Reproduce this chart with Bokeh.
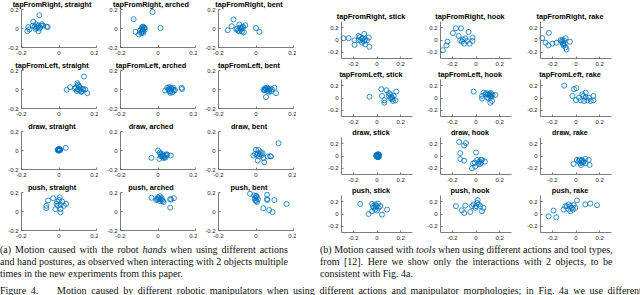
from bokeh.plotting import figure
from bokeh.models import Div, Spacer, Range1d, FixedTicker, CustomJSTickFormatter, Label
from bokeh.layouts import row, column
from bokeh.embed import file_html
from bokeh.resources import INLINE

# ---------------- panel (a): robot hands ----------------
hand_titles = ["tapFromRight, straight", "tapFromRight, arched", "tapFromRight, bent",
               "tapFromLeft, straight", "tapFromLeft, arched", "tapFromLeft, bent",
               "draw, straight", "draw, arched", "draw, bent",
               "push, straight", "push, arched", "push, bent"]

tfr_straight_x = [-0.105, -0.137, -0.123, -0.092, -0.066, -0.06, -0.164, -0.158, -0.169, -0.11, -0.12, -0.115, -0.105, -0.1, -0.095, -0.125, -0.13, -0.11, -0.085, -0.14]
tfr_straight_y = [0.14, 0.07, 0.045, 0.045, 0.02, 0.015, 0.015, -0.01, -0.028, -0.028, 0.01, 0.02, 0.0, 0.01, 0.03, -0.005, 0.02, 0.03, 0.03, 0.03]
tfr_arched_x = [-0.029, -0.13, 0.013, -0.12, -0.102, -0.09, -0.085, -0.08, -0.075, -0.07, -0.08, -0.088, -0.095, -0.078, -0.072, -0.085, -0.09, -0.08]
tfr_arched_y = [0.175, 0.098, 0.006, -0.036, -0.063, -0.01, 0.0, 0.02, 0.01, -0.01, -0.03, -0.04, -0.02, -0.045, 0.005, 0.015, -0.05, -0.02]
tfr_bent_x = [-0.12, -0.13, -0.089, -0.057, -0.151, 0.0, 0.018, -0.1, -0.095, -0.085, -0.08, -0.075, -0.07, -0.065, -0.105, -0.09, -0.08, -0.07]
tfr_bent_y = [0.095, 0.024, 0.042, 0.035, -0.018, 0.006, -0.036, 0.0, -0.02, 0.01, -0.01, -0.03, 0.01, -0.04, -0.01, -0.03, 0.005, 0.02]
tfl_straight_x = [0.133, 0.041, 0.059, 0.098, 0.151, 0.09, 0.1, 0.105, 0.11, 0.115, 0.12, 0.125, 0.13, 0.095, 0.108, 0.118, 0.14, 0.1, 0.085]
tfl_straight_y = [0.137, -0.003, 0.024, 0.066, -0.039, 0.02, 0.0, 0.04, -0.01, 0.01, -0.02, 0.0, 0.005, -0.015, 0.03, -0.025, 0.0, 0.05, 0.01]
tfl_arched_x = [0.126, 0.128, 0.038, 0.05, 0.055, 0.06, 0.065, 0.07, 0.075, 0.08, 0.085, 0.06, 0.07, 0.08, 0.065, 0.09, 0.058]
tfl_arched_y = [0.018, 0.005, -0.011, 0.02, 0.0, 0.025, -0.02, 0.01, -0.03, 0.0, -0.01, -0.015, 0.015, 0.02, -0.035, -0.005, 0.005]
tfl_bent_x = [0.098, 0.107, 0.053, 0.04, 0.045, 0.05, 0.055, 0.06, 0.065, 0.07, 0.075, 0.08, 0.05, 0.06, 0.07, 0.085, 0.045]
tfl_bent_y = [0.018, -0.039, -0.08, 0.0, -0.01, 0.01, 0.0, -0.015, 0.005, -0.005, 0.01, -0.02, 0.015, 0.02, -0.025, 0.0, -0.005]
draw_straight_x = [0.036, -0.005, 0.0, 0.005, -0.003, 0.002, 0.0, -0.008, 0.004, 0.006, -0.002, 0.001]
draw_straight_y = [0.028, 0.01, 0.005, 0.008, 0.0, 0.012, 0.015, 0.005, 0.002, 0.01, 0.013, 0.0]
draw_arched_x = [0.0, 0.013, -0.035, 0.068, 0.007, 0.02, 0.025, 0.03, 0.035, 0.04, 0.045, 0.015, 0.03, 0.04, 0.05, 0.022, 0.01]
draw_arched_y = [0.0, -0.035, -0.077, -0.053, -0.088, -0.05, -0.04, -0.06, -0.07, -0.05, -0.04, -0.06, -0.08, -0.075, -0.045, -0.065, -0.02]
draw_bent_x = [0.12, 0.0, 0.013, -0.014, 0.062, 0.009, 0.044, 0.08, 0.01, 0.02, 0.025, 0.03, 0.015, 0.005, 0.04, 0.075, -0.005, 0.035]
draw_bent_y = [0.077, 0.007, 0.005, -0.053, -0.063, -0.105, -0.123, -0.063, -0.03, -0.04, -0.02, -0.05, -0.06, -0.045, -0.08, -0.06, -0.035, -0.03]
push_straight_x = [-0.068, -0.068, -0.058, -0.031, 0.004, 0.038, 0.008, -0.006, 0.017, -0.01, -0.013, 0.008, 0.0, 0.026, -0.019, 0.008]
push_straight_y = [0.06, 0.035, 0.116, 0.14, 0.15, 0.08, -0.01, 0.06, 0.105, 0.105, 0.08, 0.07, 0.123, 0.06, 0.025, 0.025]
push_arched_x = [-0.035, -0.01, 0.0, 0.005, 0.01, 0.015, 0.02, 0.025, 0.03, 0.0, 0.01, 0.02, 0.065, 0.07, 0.085, 0.065, -0.005]
push_arched_y = [0.145, 0.12, 0.15, 0.14, 0.16, 0.13, 0.12, 0.11, 0.1, 0.13, 0.11, 0.14, 0.13, 0.125, 0.14, 0.04, 0.13]
push_bent_x = [-0.032, -0.01, -0.005, 0.0, 0.005, 0.01, 0.0, -0.005, 0.005, 0.059, 0.059, 0.06, 0.098, 0.163, 0.039, 0.07, 0.088, 0.002]
push_bent_y = [0.186, 0.17, 0.14, 0.16, 0.15, 0.13, 0.11, 0.12, 0.1, 0.176, 0.13, 0.12, 0.12, 0.08, 0.035, 0.015, -0.007, 0.165]

# ---------------- panel (b): tools ----------------
tool_titles = ["tapFromRight, stick", "tapFromRight, hook", "tapFromRight, rake",
               "tapFromLeft, stick", "tapFromLeft, hook", "tapFromLeft, rake",
               "draw, stick", "draw, hook", "draw, rake",
               "push, stick", "push, hook", "push, rake"]

t_tfr_stick_x = [-0.283, -0.24, -0.19, -0.19, -0.156, -0.108, -0.07, -0.1, -0.065, -0.14, -0.12, -0.156, -0.127, -0.1, -0.085, -0.13, -0.145, -0.11]
t_tfr_stick_y = [0.028, 0.03, -0.005, -0.08, 0.066, 0.1, 0.04, -0.07, -0.11, -0.005, 0.028, -0.005, -0.044, 0.01, -0.005, 0.02, 0.05, -0.02]
t_tfr_hook_x = [-0.28, -0.25, -0.24, -0.195, -0.17, -0.127, -0.147, -0.063, -0.029, -0.029, -0.054, -0.09, -0.119, -0.1, -0.133, -0.076, -0.11]
t_tfr_hook_y = [-0.165, -0.087, -0.027, 0.11, 0.19, 0.19, 0.066, 0.13, 0.04, -0.016, -0.06, 0.028, -0.027, -0.06, -0.005, -0.016, 0.01]
t_tfr_rake_x = [-0.285, -0.23, -0.257, -0.234, -0.2, -0.164, -0.13, -0.1, -0.088, -0.051, -0.107, -0.088, -0.08, -0.12, -0.11, -0.095, -0.105, -0.115]
t_tfr_rake_y = [0.03, 0.115, -0.044, -0.087, -0.06, -0.044, -0.005, -0.005, 0.03, -0.027, -0.071, -0.12, -0.153, -0.03, -0.05, -0.06, -0.09, 0.0]
t_tfl_stick_x = [-0.063, 0.036, 0.042, 0.08, 0.062, 0.062, 0.163, 0.113, 0.127, 0.141, 0.113, 0.155, 0.135, 0.099, 0.12, 0.13, 0.1]
t_tfl_stick_y = [0.02, 0.143, 0.033, 0.126, -0.038, -0.077, 0.104, 0.06, 0.005, 0.033, -0.005, -0.038, -0.049, 0.033, 0.02, -0.02, 0.08]
t_tfl_hook_x = [-0.02, 0.051, 0.064, 0.051, 0.121, 0.135, 0.121, 0.164, 0.09, 0.1, 0.11, 0.12, 0.13, 0.14, 0.105, 0.115, 0.08, 0.095, 0.125]
t_tfl_hook_y = [0.104, -0.011, 0.087, 0.033, 0.049, -0.049, -0.077, 0.049, 0.08, 0.06, 0.04, 0.03, 0.02, 0.05, 0.0, 0.07, 0.06, 0.01, 0.08]
t_tfl_rake_x = [-0.1, -0.03, -0.017, 0.003, 0.0, 0.082, 0.147, 0.147, 0.062, 0.11, 0.096, 0.04, 0.068, 0.124, 0.082, 0.025, 0.054]
t_tfl_rake_y = [0.2, 0.033, 0.143, 0.16, -0.033, 0.087, 0.033, -0.038, 0.033, 0.005, -0.038, -0.038, -0.049, -0.049, 0.016, 0.005, 0.06]
t_draw_stick_x = [0.0, 0.005, 0.01, -0.005, 0.015, 0.0, 0.008, 0.012, -0.003, 0.004, 0.018, 0.006, 0.002, 0.01, -0.008, 0.014]
t_draw_stick_y = [0.01, 0.0, 0.02, 0.015, 0.01, -0.01, -0.02, 0.03, -0.005, 0.025, -0.01, 0.005, -0.015, -0.005, 0.005, 0.02]
t_draw_hook_x = [-0.142, -0.085, -0.1, -0.133, -0.133, -0.1, 0.0, -0.025, -0.034, -0.006, 0.01, 0.03, 0.04, 0.05, 0.02, 0.075, -0.01, 0.035, 0.045]
t_draw_hook_y = [0.227, 0.21, 0.17, 0.046, -0.05, -0.075, 0.057, -0.12, -0.2, -0.17, -0.063, -0.09, -0.063, -0.063, -0.128, -0.09, -0.107, -0.128, -0.107]
t_draw_rake_x = [-0.02, 0.008, 0.079, 0.107, 0.115, 0.05, 0.064, 0.036, 0.022, 0.042, 0.079, 0.05, 0.03, 0.045, 0.06]
t_draw_rake_y = [-0.128, -0.063, -0.046, -0.063, -0.145, -0.063, -0.09, -0.118, -0.09, -0.145, -0.118, -0.107, -0.063, -0.08, -0.1]
t_push_stick_x = [-0.142, -0.042, -0.071, 0.042, 0.085, 0.028, 0.008, -0.014, -0.028, -0.014, -0.042, 0.0, 0.014, -0.014, -0.034, 0.0]
t_push_stick_y = [0.165, 0.165, 0.0, -0.01, 0.072, 0.127, 0.17, 0.155, 0.1, 0.072, 0.045, 0.056, 0.1, 0.127, 0.127, 0.127]
t_push_hook_x = [-0.17, -0.119, -0.09, -0.099, -0.048, 0.014, 0.064, 0.051, -0.02, 0.0, 0.022, -0.006, 0.036, -0.034, 0.01]
t_push_hook_y = [0.127, 0.06, 0.138, 0.016, 0.033, 0.225, 0.1, 0.044, 0.155, 0.127, 0.155, 0.1, 0.127, 0.127, 0.18]
t_push_rake_x = [-0.232, -0.19, -0.167, -0.105, -0.063, 0.008, 0.079, 0.121, 0.178, -0.048, -0.076, -0.048, -0.034, -0.02, -0.063, -0.025, -0.006, -0.09]
t_push_rake_y = [-0.038, 0.056, -0.054, 0.072, 0.155, 0.22, 0.155, 0.17, 0.143, 0.044, 0.127, 0.127, 0.1, 0.143, 0.072, 0.072, 0.1, 0.127]

tick_values = [-0.2, 0, 0.2]

hand_data = [(tfr_straight_x, tfr_straight_y), (tfr_arched_x, tfr_arched_y), (tfr_bent_x, tfr_bent_y),
             (tfl_straight_x, tfl_straight_y), (tfl_arched_x, tfl_arched_y), (tfl_bent_x, tfl_bent_y),
             (draw_straight_x, draw_straight_y), (draw_arched_x, draw_arched_y), (draw_bent_x, draw_bent_y),
             (push_straight_x, push_straight_y), (push_arched_x, push_arched_y), (push_bent_x, push_bent_y)]
tool_data = [(t_tfr_stick_x, t_tfr_stick_y), (t_tfr_hook_x, t_tfr_hook_y), (t_tfr_rake_x, t_tfr_rake_y),
             (t_tfl_stick_x, t_tfl_stick_y), (t_tfl_hook_x, t_tfl_hook_y), (t_tfl_rake_x, t_tfl_rake_y),
             (t_draw_stick_x, t_draw_stick_y), (t_draw_hook_x, t_draw_hook_y), (t_draw_rake_x, t_draw_rake_y),
             (t_push_stick_x, t_push_stick_y), (t_push_hook_x, t_push_hook_y), (t_push_rake_x, t_push_rake_y)]

BLUE = "#0072BD"
AXC = "#5a5a5a"
fmt = CustomJSTickFormatter(code="return Math.abs(tick) < 1e-9 ? '0' : tick.toFixed(1);")


def make_fig(title, xs, ys, lim, w, h, pl, pr, pt, pb, toff, tup):
    # the canvas is one plain frame; the axes box (-lim..lim) sits inside it
    # with pl/pr/pt/pb pixels of room for tick labels and the title
    sx = (w - pl - pr) / (2 * lim)
    sy = (h - pt - pb) / (2 * lim)
    p = figure(width=w, height=h,
               x_range=Range1d(-lim - pl / sx, lim + pr / sx),
               y_range=Range1d(-lim - pb / sy, lim + pt / sy),
               output_backend="svg", toolbar_location=None,
               min_border=0, min_border_left=0, min_border_right=0,
               min_border_top=0, min_border_bottom=0,
               outline_line_color=None, background_fill_color="white", border_fill_color="white")
    p.grid.visible = False
    p.xaxis[0].fixed_location = -lim
    p.yaxis[0].fixed_location = -lim
    for ax in (p.xaxis[0], p.yaxis[0]):
        ax.bounds = (-lim, lim)
        ax.ticker = FixedTicker(ticks=tick_values)
        ax.formatter = fmt
        ax.axis_line_color = AXC
        ax.axis_line_width = 0.8
        ax.major_tick_line_color = AXC
        ax.major_tick_line_width = 0.8
        ax.major_tick_in = 2
        ax.major_tick_out = 0
        ax.minor_tick_line_color = None
        ax.major_label_text_font = "Liberation Sans"
        ax.major_label_text_font_size = "6px"
        ax.major_label_text_color = "#262626"
        ax.major_label_standoff = 3
    p.scatter(xs, ys, marker="circle", size=5, fill_color=None, line_color=BLUE, line_width=0.8)
    p.add_layout(Label(x=0, y=lim, text=title, text_align="center", text_baseline="middle",
                       x_offset=toff, y_offset=tup, text_font="Liberation Sans",
                       text_font_size="7.3px", text_font_style="bold", text_color="#000000"))
    return p


# panel a geometry (cell sizes and room around each axes box, in pixels)
a_w = [98, 99, 99]
a_pl = [21, 22, 21]
a_pr = [2, 2, 3]
a_rows = []
for r in range(4):
    figs = []
    for c in range(3):
        i = r * 3 + c
        figs.append(make_fig(hand_titles[i], hand_data[i][0], hand_data[i][1], 0.2,
                             a_w[c], 61, a_pl[c], a_pr[c], 9, 14, -7, 5.5))
    a_rows.append(row(*figs))
grid_a = column(*a_rows)

# panel b geometry
b_w = [100, 100, 100]
b_pl = [21, 20, 20]
b_pr = [8, 9, 9]
b_rows = [Spacer(width=300, height=11)]
for r in range(4):
    figs = []
    for c in range(3):
        i = r * 3 + c
        figs.append(make_fig(tool_titles[i], tool_data[i][0], tool_data[i][1], 0.3,
                             b_w[c], 58, b_pl[c], b_pr[c], 10, 11, -6, 5))
    b_rows.append(row(*figs))
grid_b = column(*b_rows)

cap_style = {"font-family": "Liberation Serif", "font-size": "10px", "line-height": "12px",
             "color": "#111111"}


def lines_html(lines):
    out = []
    for k, ln in enumerate(lines):
        last = (k == len(lines) - 1)
        al = "left" if last else "justify"
        out.append('<div style="white-space:nowrap;text-align:%s;text-align-last:%s">%s</div>' % (al, al, ln))
    return "".join(out)


cap_a_lines = ["(a) Motion caused with the robot <i>hands</i> when using different actions",
               "and hand postures, as observed when interacting with 2 objects multiple",
               "times in the new experiments from this paper."]
cap_b_lines = ["(b) Motion caused with <i>tools</i> when using different actions and tool types,",
               "from [12]. Here we show only the interactions with 2 objects, to be",
               "consistent with Fig. 4a."]
fig_line = ("Figure 4.&nbsp;&nbsp;&nbsp;&nbsp;Motion caused by different robotic manipulators when using "
            "different actions and manipulator morphologies; in Fig. 4a we use different")

div_a = Div(text=lines_html(cap_a_lines), width=306, height=36, styles=cap_style, margin=0)
div_b = Div(text=lines_html(cap_b_lines), width=317, height=36, styles=cap_style, margin=0)
div_f = Div(text='<div style="white-space:nowrap;word-spacing:2.2px">%s</div>' % fig_line,
            width=640, height=10, styles=dict(cap_style, overflow="hidden"), margin=0)

layout = column(
    row(grid_a, Spacer(width=24, height=10), grid_b),
    row(div_a, Spacer(width=14, height=10), div_b),
    Spacer(width=10, height=5),
    div_f,
)

open("out.html", "w").write(file_html(layout, INLINE))
